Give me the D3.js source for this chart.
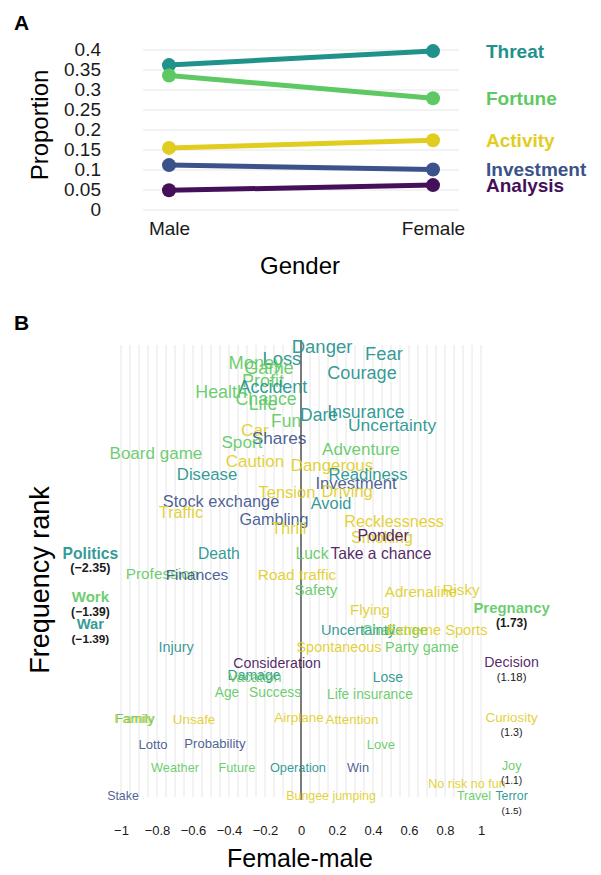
<!DOCTYPE html>
<html>
<head>
<meta charset="utf-8">
<script src="https://cdn.jsdelivr.net/npm/d3@7"></script>
<style>
  body { margin: 0; background: #fff; }
  text { font-family: "Liberation Sans", Arial, sans-serif; }
</style>
</head>
<body>
<div id="chart"></div>
<script>
// Panel A data
var genders = ["Male", "Female"];
var groups = ["Threat", "Fortune", "Activity", "Investment", "Analysis"];
var propMale = [0.361, 0.335, 0.154, 0.111, 0.048];
var propFemale = [0.396, 0.278, 0.173, 0.100, 0.061];
var propTicks = [0, 0.05, 0.1, 0.15, 0.2, 0.25, 0.3, 0.35, 0.4];

// Panel B data (female-male difference and frequency rank per word)
var wordLabels = ["Danger", "Fear", "Courage", "Loss", "Money", "Game", "Profit", "Accident", "Health", "Chance",
  "Life", "Dare", "Insurance", "Uncertainty", "Fun", "Car", "Shares", "Sport", "Adventure", "Board game",
  "Caution", "Dangerous", "Disease", "Readiness", "Investment", "Tension", "Driving", "Stock exchange", "Avoid", "Traffic",
  "Gambling", "Recklessness", "Thrill", "Smoking", "Ponder", "Politics", "Luck", "Take a chance", "Death", "Profession",
  "Finances", "Road traffic", "Safety", "Adrenaline", "Risky", "Work", "Pregnancy", "Flying", "War", "Uncertainty",
  "Challenge", "Extreme Sports", "Spontaneous", "Party game", "Injury", "Consideration", "Decision", "Damage", "Vacation", "Lose",
  "Age", "Success", "Life insurance", "Family", "Family", "Unsafe", "Airplane", "Attention", "Curiosity", "Lotto",
  "Probability", "Love", "Weather", "Future", "Operation", "Win", "Joy", "No risk no fun", "Stake", "Bungee jumping",
  "Travel", "Terror"];
var wordDiff = [0.117, 0.461, 0.339, -0.106, -0.25, -0.178, -0.211, -0.156, -0.444, -0.194,
  -0.211, 0.1, 0.361, 0.506, -0.083, -0.256, -0.122, -0.328, 0.333, -0.806,
  -0.256, 0.172, -0.522, 0.372, 0.306, -0.078, 0.256, -0.444, 0.167, -0.667,
  -0.15, 0.517, -0.067, 0.45, 0.456, -2.35, 0.061, 0.444, -0.456, -0.772,
  -0.578, -0.022, 0.083, 0.667, 0.889, -1.39, 1.73, 0.383, -1.39, 0.317,
  0.522, 0.756, 0.211, 0.672, -0.694, -0.133, 1.18, -0.261, -0.256, 0.483,
  -0.411, -0.144, 0.383, -0.928, -0.922, -0.594, -0.011, 0.283, 1.3, -0.822,
  -0.478, 0.444, -0.7, -0.356, -0.017, 0.317, 1.1, 0.922, -0.989, 0.167,
  0.961, 1.5];
var wordRank = [1.1, 2.7, 7.1, 3.8, 4.7, 5.8, 8.7, 10.2, 11.3, 12.9,
  14.0, 16.4, 15.6, 18.7, 17.8, 19.8, 21.6, 22.4, 24.0, 24.9,
  26.7, 27.6, 29.6, 29.6, 31.6, 33.6, 33.3, 35.6, 36.0, 38.0,
  39.6, 40.0, 41.6, 43.6, 43.1, 47.1, 47.3, 47.3, 47.3, 51.6,
  51.8, 51.8, 55.3, 55.6, 55.3, 56.9, 59.3, 59.6, 62.9, 64.2,
  64.2, 64.2, 68.0, 68.0, 68.0, 71.6, 71.3, 74.2, 74.7, 74.7,
  78.0, 78.0, 78.4, 83.8, 83.8, 84.0, 83.6, 84.0, 83.6, 89.6,
  89.3, 89.6, 94.7, 94.7, 94.7, 94.7, 94.4, 98.4, 101.1, 100.9,
  100.9, 100.9];
var wordGroup = ["Threat", "Threat", "Threat", "Threat", "Fortune", "Fortune", "Fortune", "Threat", "Fortune", "Fortune",
  "Fortune", "Threat", "Threat", "Threat", "Fortune", "Activity", "Investment", "Fortune", "Fortune", "Fortune",
  "Activity", "Activity", "Threat", "Threat", "Investment", "Activity", "Activity", "Investment", "Threat", "Activity",
  "Investment", "Activity", "Activity", "Activity", "Analysis", "Threat", "Fortune", "Analysis", "Threat", "Fortune",
  "Investment", "Activity", "Fortune", "Activity", "Activity", "Fortune", "Fortune", "Activity", "Threat", "Threat",
  "Fortune", "Activity", "Activity", "Fortune", "Threat", "Analysis", "Analysis", "Threat", "Fortune", "Threat",
  "Fortune", "Fortune", "Fortune", "Activity", "Fortune", "Activity", "Activity", "Activity", "Activity", "Investment",
  "Investment", "Fortune", "Fortune", "Fortune", "Threat", "Investment", "Fortune", "Activity", "Investment", "Activity",
  "Fortune", "Threat"];
var boldWords = ["Politics", "Work", "War", "Pregnancy"];
var diffTicks = [-1, -0.8, -0.6, -0.4, -0.2, 0, 0.2, 0.4, 0.6, 0.8, 1];

var colors = {
  Threat: "#21918c",
  Fortune: "#5ec962",
  Activity: "#e1cd1f",
  Investment: "#3b528b",
  Analysis: "#44105a"
};

var svgWidth = 601;
var svgHeight = 875;

var svg = d3.select("#chart").append("svg")
  .attr("width", svgWidth)
  .attr("height", svgHeight);

svg.append("rect").attr("width", svgWidth).attr("height", svgHeight).attr("fill", "#fff");

// ---------- Panel A ----------
var xA = d3.scalePoint().domain(genders).range([169, 433]);
var yA = d3.scaleLinear().domain([0, 0.4]).range([209.5, 49.5]);

svg.append("text").attr("x", 14).attr("y", 30)
  .attr("font-size", 21).attr("font-weight", "bold").text("A");

// grid
var gridA = svg.append("g")
  .attr("transform", "translate(143,0)")
  .call(d3.axisLeft(yA).tickValues(propTicks).tickSize(-316).tickFormat(""));
gridA.select(".domain").remove();
gridA.selectAll("line").attr("stroke", "#e6e6e6").attr("stroke-width", 1);

var yAxisA = svg.append("g")
  .attr("transform", "translate(103,0)")
  .call(d3.axisLeft(yA).tickValues(propTicks).tickSize(0).tickPadding(2).tickFormat(d3.format("~g")));
yAxisA.select(".domain").remove();
yAxisA.selectAll("text").attr("font-size", 19).attr("fill", "#1a1a1a")
  .style("font-family", "Liberation Sans, Arial, sans-serif");

var xAxisA = svg.append("g")
  .attr("transform", "translate(0,210)")
  .call(d3.axisBottom(xA).tickSize(0).tickPadding(12));
xAxisA.select(".domain").remove();
xAxisA.selectAll("text").attr("font-size", 19).attr("fill", "#1a1a1a")
  .style("font-family", "Liberation Sans, Arial, sans-serif");

svg.append("text")
  .attr("transform", "translate(48,125) rotate(-90)")
  .attr("text-anchor", "middle")
  .attr("font-size", 24)
  .text("Proportion");

svg.append("text")
  .attr("x", 300).attr("y", 274)
  .attr("text-anchor", "middle")
  .attr("font-size", 24)
  .text("Gender");

var rowsA = groups.map(function(g, i) {
  return { group: g, male: propMale[i], female: propFemale[i] };
});

svg.selectAll(".lineA")
  .data(rowsA)
  .enter()
  .append("line")
  .attr("x1", xA("Male")).attr("x2", xA("Female"))
  .attr("y1", function(d) { return yA(d.male); })
  .attr("y2", function(d) { return yA(d.female); })
  .attr("stroke", function(d) { return colors[d.group]; })
  .attr("stroke-width", 5);

rowsA.forEach(function(d) {
  genders.forEach(function(gen) {
    svg.append("circle")
      .attr("cx", xA(gen))
      .attr("cy", yA(gen == "Male" ? d.male : d.female))
      .attr("r", 7)
      .attr("fill", colors[d.group]);
  });
});

svg.selectAll(".labelA")
  .data(rowsA)
  .enter()
  .append("text")
  .attr("x", 486)
  .attr("y", function(d) { return yA(d.female); })
  .attr("dy", "0.36em")
  .attr("font-size", 19)
  .attr("font-weight", "bold")
  .attr("fill", function(d) { return colors[d.group]; })
  .text(function(d) { return d.group; });

// ---------- Panel B ----------
var xB = d3.scaleLinear().domain([-1, 1]).range([121, 481]);
var yB = d3.scaleLinear().domain([0, 100]).range([341, 791]);
var sizeB = d3.scaleLinear().domain([1, 101]).range([18.5, 12.4]);
var clampAt = 1.17;

svg.append("text").attr("x", 14).attr("y", 330)
  .attr("font-size", 21).attr("font-weight", "bold").text("B");

svg.selectAll(".gridB")
  .data(d3.range(-20, 21).map(function(k) { return k * 0.05; }))
  .enter()
  .append("line")
  .attr("x1", function(d) { return xB(d); })
  .attr("x2", function(d) { return xB(d); })
  .attr("y1", 345).attr("y2", 797)
  .attr("stroke", "#e6e6e6")
  .attr("stroke-width", 1);

svg.append("line")
  .attr("x1", xB(0)).attr("x2", xB(0))
  .attr("y1", 340).attr("y2", 800)
  .attr("stroke", "#555")
  .attr("stroke-width", 1.5);

var xAxisB = svg.append("g")
  .attr("transform", "translate(0,800)")
  .call(d3.axisBottom(xB).tickValues(diffTicks).tickSize(0).tickPadding(26).tickFormat(d3.format("~g")));
xAxisB.select(".domain").remove();
xAxisB.selectAll("text").attr("font-size", 13).attr("fill", "#1a1a1a")
  .style("font-family", "Liberation Sans, Arial, sans-serif");

svg.append("text")
  .attr("x", 300).attr("y", 867)
  .attr("text-anchor", "middle")
  .attr("font-size", 25)
  .text("Female-male");

svg.append("text")
  .attr("transform", "translate(49,580) rotate(-90)")
  .attr("text-anchor", "middle")
  .attr("font-size", 27)
  .text("Frequency rank");

var words = wordLabels.map(function(w, i) {
  var out = Math.abs(wordDiff[i]) > 1.05;
  return {
    word: w,
    diff: wordDiff[i],
    rank: wordRank[i],
    group: wordGroup[i],
    outlier: out,
    shown: out ? Math.sign(wordDiff[i]) * clampAt : wordDiff[i],
    bold: boldWords.indexOf(w) >= 0
  };
});

svg.selectAll(".word")
  .data(words)
  .enter()
  .append("text")
  .attr("x", function(d) { return xB(d.shown); })
  .attr("y", function(d) { return yB(d.rank); })
  .attr("dy", "0.36em")
  .attr("text-anchor", "middle")
  .attr("font-size", function(d) { return sizeB(d.rank); })
  .attr("font-weight", function(d) { return d.bold ? "bold" : "normal"; })
  .attr("fill", function(d) { return colors[d.group]; })
  .attr("fill-opacity", 0.92)
  .text(function(d) { return d.word; });

svg.selectAll(".outVal")
  .data(words.filter(function(d) { return d.outlier; }))
  .enter()
  .append("text")
  .attr("x", function(d) { return xB(d.shown); })
  .attr("y", function(d) { return yB(d.rank) + 15; })
  .attr("dy", "0.36em")
  .attr("text-anchor", "middle")
  .attr("font-size", function(d) { return sizeB(d.rank) * 0.8; })
  .attr("font-weight", function(d) { return d.bold ? "bold" : "normal"; })
  .attr("fill", "#1a1a1a")
  .text(function(d) { return "(" + d3.format("~g")(d.diff) + ")"; });
</script>
</body>
</html>
